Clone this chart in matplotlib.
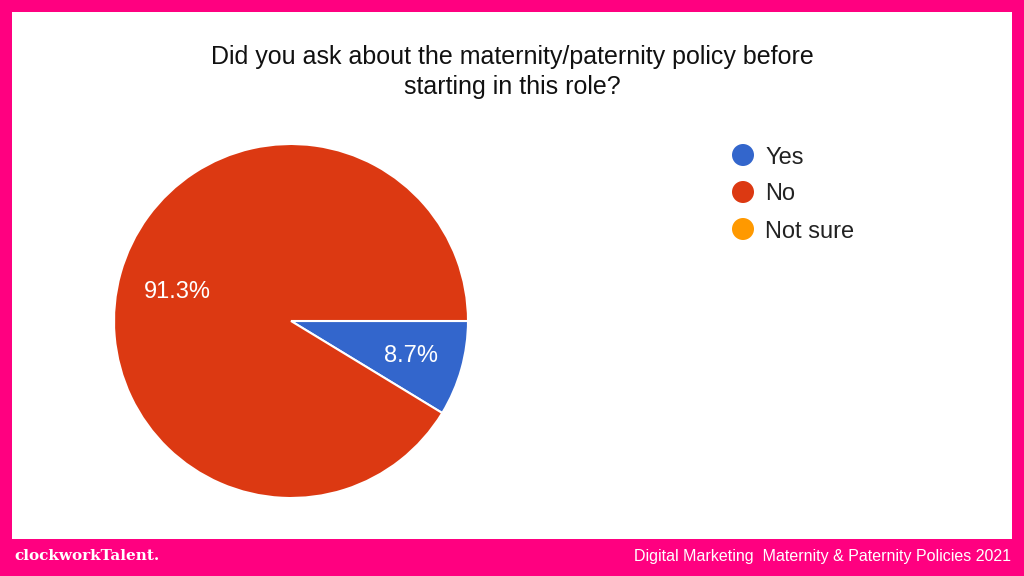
import matplotlib.pyplot as plt
from matplotlib.patches import Rectangle, Circle

# data
labels = ['Yes', 'No', 'Not sure']
shares = [8.7, 91.3, 0.0]
colors = ['#3366CC', '#DC3912', '#FF9900']
title = 'Did you ask about the maternity/paternity policy before\nstarting in this role?'
brand = 'clockworkTalent.'
footer = 'Digital Marketing  Maternity & Paternity Policies 2021'

W, H = 1024, 576
pink = '#FF0080'
sans = ['Liberation Sans', 'DejaVu Sans']

fig = plt.figure(figsize=(W / 100, H / 100), dpi=100)
fig.patch.set_facecolor(pink)

# white panel
bg = fig.add_axes([0, 0, 1, 1])
bg.set_xlim(0, W)
bg.set_ylim(H, 0)
bg.axis('off')
bg.add_patch(Rectangle((12, 12), 1000, 527, facecolor='white', edgecolor='none'))

bg.text(512, 72, title, ha='center', va='center', fontsize=18,
        family=sans, color='#111111', linespacing=1.3)

# legend
for i, (lab, c) in enumerate(zip(labels, colors)):
    y = 155 + i * 37
    bg.add_patch(Circle((743, y), 11, facecolor=c, edgecolor='none'))
    bg.text(765, y, lab, ha='left', va='center_baseline', fontsize=17,
            family=sans, color='#222222')

# footer band
bg.text(14, 556, brand, ha='left', va='center', fontsize=11, fontweight='bold',
        family=['DejaVu Serif'], color='white')
bg.text(1011, 557, footer, ha='right', va='center', fontsize=11.5,
        family=['Liberation Sans Narrow', 'Liberation Sans', 'DejaVu Sans'], color='white')

# pie
cx, cy, r = 291, 321, 177
ax = fig.add_axes([(cx - r) / W, (H - cy - r) / H, 2 * r / W, 2 * r / H])
vals = [v for v in shares if v > 0]
cols = [c for v, c in zip(shares, colors) if v > 0]
wedges, texts = ax.pie(vals, colors=cols, startangle=0, counterclock=False,
                       radius=1, wedgeprops=dict(edgecolor='white', linewidth=1.5))
ax.set_xlim(-1, 1)
ax.set_ylim(-1, 1)
ax.set_aspect('equal')
ax.axis('off')

# percentage labels (pixel spots converted to pie coords)
lab_pos = [(411, 356), (177, 292)]
for (x, y), v in zip(lab_pos, vals):
    ax.text((x - cx) / r, (cy - y) / r, f'{v:.1f}%', ha='center', va='center',
            fontsize=17, family=sans, color='white')

fig.savefig('out.png', dpi=100, facecolor=fig.get_facecolor())
